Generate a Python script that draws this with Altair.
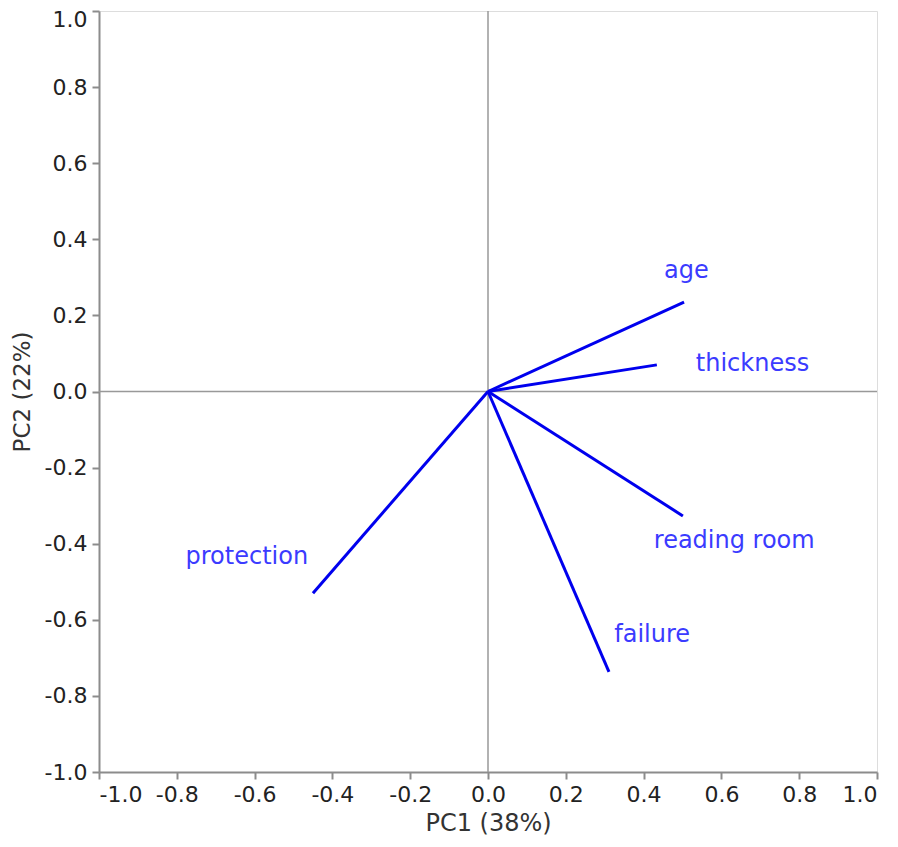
import altair as alt
import pandas as pd

variables = ["age", "thickness", "reading room", "failure", "protection"]
pc1 = [0.504, 0.434, 0.501, 0.311, -0.45]
pc2 = [0.235, 0.07, -0.327, -0.737, -0.53]
label_x = [0.51, 0.68, 0.633, 0.422, -0.62]
label_y = [0.318, 0.071, -0.392, -0.639, -0.436]

ticks = [round(-1.0 + 0.1 * i, 1) for i in range(21)]

df = pd.DataFrame({"var": variables, "pc1": pc1, "pc2": pc2,
                   "lx": label_x, "ly": label_y,
                   "ox": [0.0] * 5, "oy": [0.0] * 5})

FONT = "DejaVu Sans"
AX_COLOR = "#8c8c8c"
is_major = "abs(round(datum.value*10)) % 2 == 0"

def axis(title, title_size, title_pad, label_offset=None):
    kw = {}
    if label_offset is not None:
        kw["labelOffset"] = {"expr": label_offset}
    return alt.Axis(
        title=title, values=ticks,
        labelExpr=f"{is_major} ? replace(format(datum.value, '.1f'), '\u2212', '-') : ''",
        tickSize={"expr": f"{is_major} ? 7 : 4"},
        tickColor=AX_COLOR, tickWidth=2, domainColor=AX_COLOR, domainWidth=2,
        labelFont=FONT, labelFontSize=22, labelColor="#222222",
        titleFont=FONT, titleFontSize=title_size, titleFontWeight="normal",
        titleColor="#333333", titlePadding=title_pad,
        grid=False, labelOverlap=False, labelPadding=5, **kw,
    )

xs = alt.Scale(domain=[-1, 1], nice=False, zero=False)
ys = alt.Scale(domain=[-1, 1], nice=False, zero=False)

base = alt.Chart(df)

zero_data = pd.DataFrame({"z": [0.0]})
vline = alt.Chart(zero_data).mark_rule(color="#999999", strokeWidth=1.5).encode(
    x=alt.X("z:Q", scale=xs, axis=axis("PC1 (38%)", 24, 6)))
hline = alt.Chart(zero_data).mark_rule(color="#999999", strokeWidth=1.5).encode(
    y=alt.Y("z:Q", scale=ys, axis=axis("PC2 (22%)", 23, 10,
                                       "datum.value >= 0.99 ? 8 : 0")))

arrows = base.mark_rule(color="#0000ee", strokeWidth=3).encode(
    x=alt.X("ox:Q", scale=xs), y=alt.Y("oy:Q", scale=ys),
    x2="pc1:Q", y2="pc2:Q")

labels = base.mark_text(color="#3b3bff", font=FONT, fontSize=24, align="center",
                        baseline="middle").encode(
    x=alt.X("lx:Q", scale=xs), y=alt.Y("ly:Q", scale=ys), text="var:N")

chart = (vline + hline + arrows + labels).properties(
    width=778, height=761,
    autosize=alt.AutoSizeParams(type="none"),
    padding={"left": 91, "top": 3, "right": 12, "bottom": 66},
).configure_view(stroke=AX_COLOR, strokeWidth=2).configure(background="white")

chart.save("out.html", embed_options={"renderer": "svg", "actions": False})
